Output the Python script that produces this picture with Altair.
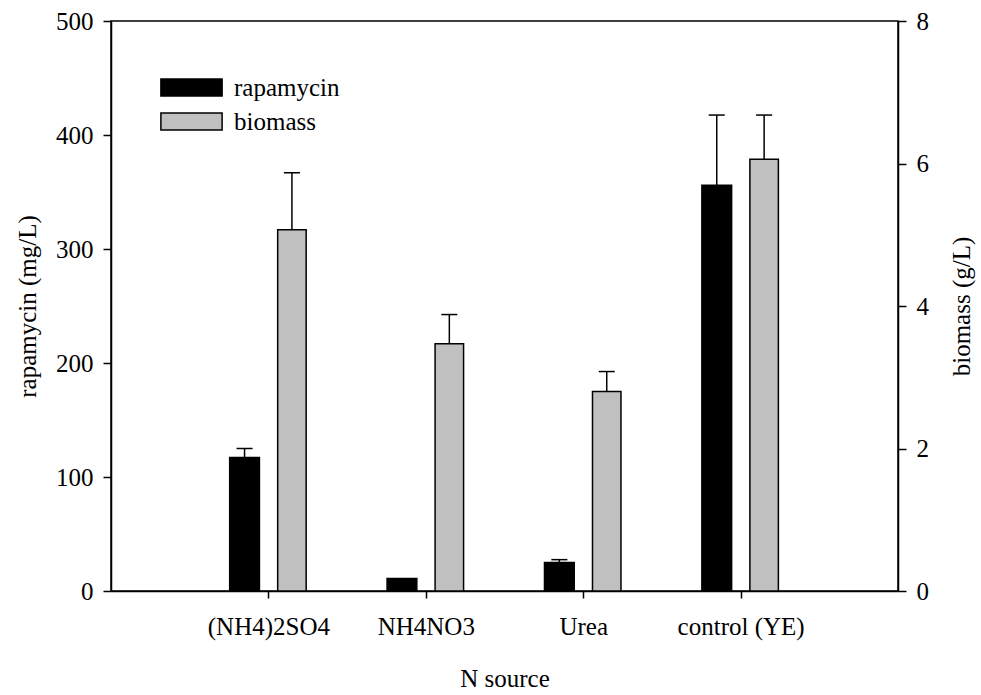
import json
import altair as alt
import pandas as pd

# Nitrogen sources tested and the measured responses (mean and SD)
sources = ["(NH4)2SO4", "NH4NO3", "Urea", "control (YE)"]
rapamycin = [117, 11, 25, 356]          # mg/L
rapamycin_sd = [8, 0, 2.5, 61.5]
biomass = [5.07, 3.47, 2.80, 6.06]      # g/L
biomass_sd = [0.80, 0.41, 0.28, 0.62]

series_names = ["rapamycin", "biomass"]
series_colors = ["#000000", "#c0c0c0"]

FONT = "'Liberation Serif', 'Times New Roman', Times, serif"
W, H = 787, 570


def frame(values, sds, name):
    return pd.DataFrame({
        "source": sources,
        "idx": list(range(1, len(sources) + 1)),
        "value": values,
        "sd": sds,
        "series": name,
    })


rap_df = frame(rapamycin, rapamycin_sd, "rapamycin")
bio_df = frame(biomass, biomass_sd, "biomass")

label_expr = json.dumps(sources) + "[datum.value - 1]"
x_scale = alt.Scale(domain=[0, 5], nice=False, zero=False)
x_axis = alt.Axis(values=[1, 2, 3, 4], labelExpr=label_expr, tickSize=7,
                  labelPadding=16, titlePadding=27, labelFlush=False)

color = alt.Color(
    "series:N",
    scale=alt.Scale(domain=series_names, range=series_colors),
    legend=alt.Legend(
        title=None, orient="none", legendX=68, legendY=54,
        symbolType="M-3.6,-1H3.6V1H-3.6Z", symbolSize=289,
        symbolStrokeColor="black", symbolStrokeWidth=1.5, symbolOpacity=1,
        labelFont=FONT, labelFontSize=25, labelColor="black",
        labelOffset=30, rowPadding=8,
    ),
)


def group(df, lo, hi, y_scale, y_axis, y_title):
    """Bars for one series with SD whiskers, offset around each category tick."""
    base = alt.Chart(df).transform_calculate(
        x0=f"datum.idx + ({lo})",
        x1=f"datum.idx + ({hi})",
        xc=f"datum.idx + ({(lo + hi) / 2})",
        cl=f"datum.idx + ({(lo + hi) / 2 - 0.051})",
        cr=f"datum.idx + ({(lo + hi) / 2 + 0.051})",
        top="datum.value + datum.sd",
    )
    y = alt.Y("value:Q", scale=y_scale, axis=y_axis, title=y_title)
    bars = base.mark_bar(stroke="black", strokeWidth=1.5, opacity=1).encode(
        x=alt.X("x0:Q", scale=x_scale, axis=x_axis, title="N source"),
        x2="x1:Q",
        y=y,
        y2=alt.datum(0),
        color=color,
    )
    errs = base.transform_filter("datum.sd > 0")
    whisker = errs.mark_rule(color="black", strokeWidth=1.5).encode(
        x="xc:Q", y=y, y2="top:Q")
    cap = errs.mark_rule(color="black", strokeWidth=1.5).encode(
        x="cl:Q", x2="cr:Q", y=alt.Y("top:Q", scale=y_scale))
    return alt.layer(whisker, bars, cap)


left = group(
    rap_df, -0.246, -0.057,
    alt.Scale(domain=[0, 500], nice=False),
    alt.Axis(orient="left", values=[0, 100, 200, 300, 400, 500], tickSize=8,
             labelPadding=10, titlePadding=15, titleAngle=-90, format="d"),
    "rapamycin (mg/L)",
)
right = group(
    bio_df, 0.059, 0.240,
    alt.Scale(domain=[0, 8], nice=False),
    alt.Axis(orient="right", values=[0, 2, 4, 6, 8], tickSize=8,
             labelPadding=10, titlePadding=46, titleAngle=-90, format="d"),
    "biomass (g/L)",
)

chart = alt.layer(left, right).resolve_scale(y="independent").properties(
    width=W,
    height=H,
    autosize=alt.AutoSizeParams(type="none"),
    padding={"left": 111, "top": 21, "right": 981 - 111 - W, "bottom": 695 - 21 - H},
    background="white",
).configure(
    font=FONT
).configure_view(
    stroke="black", strokeWidth=1.5
).configure_axis(
    grid=False,
    domainColor="black", domainWidth=1.5,
    tickColor="black", tickWidth=1.5,
    labelFont=FONT, labelFontSize=25, labelColor="black",
    titleFont=FONT, titleFontSize=25, titleFontWeight="normal", titleColor="black",
)

chart.save("out.html", embed_options={"renderer": "svg", "actions": False})
